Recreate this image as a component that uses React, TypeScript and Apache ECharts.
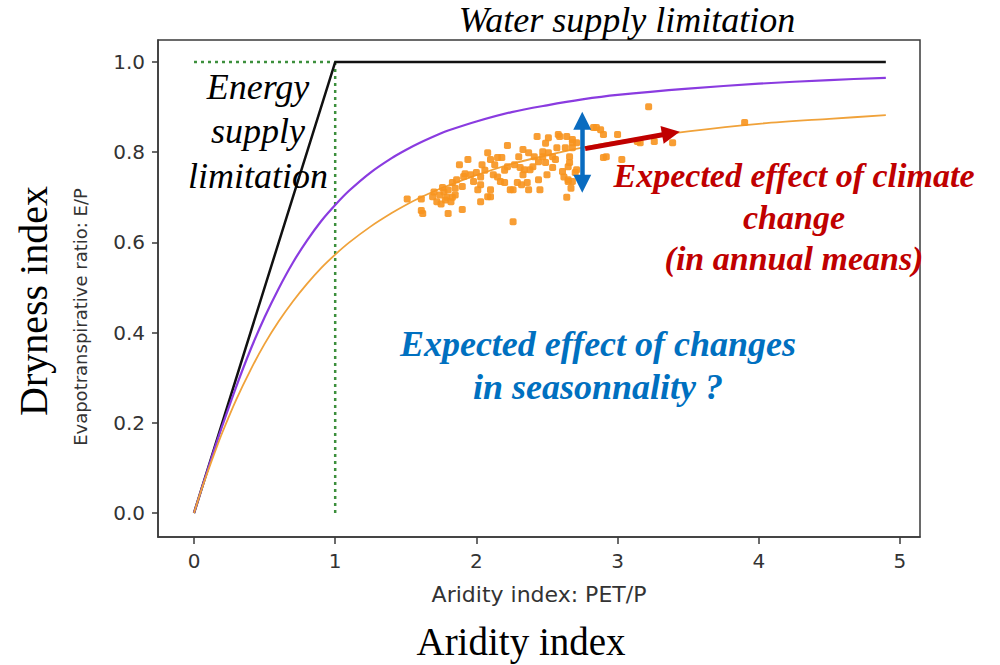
import React, { useEffect, useRef } from "react";
import * as echarts from "echarts";

// ---- data ----
const xTicks = [0, 1, 2, 3, 4, 5];
const yTicks = [0, 0.2, 0.4, 0.6, 0.8, 1.0];
const xAxisTitle = "Aridity index: PET/P";
const yAxisTitle = "Evapotranspirative ratio: E/P";

const limitLine = [[0, 0], [1, 1], [4.9, 1]];
const dottedH = [[0, 1], [1, 1]];
const dottedV = [[1, 1], [1, 0]];

const curveX = [0, 0.05, 0.1, 0.15, 0.2, 0.3, 0.4, 0.5, 0.6, 0.7, 0.8, 0.9, 1, 1.1, 1.25, 1.4, 1.5, 1.6, 1.75, 1.8, 2, 2.25, 2.5, 2.75, 3, 3.5, 4, 4.5, 4.9];
const purpleY = [0, 0.050, 0.099, 0.147, 0.193, 0.281, 0.362, 0.434, 0.498, 0.555, 0.604, 0.647, 0.683, 0.715, 0.755, 0.787, 0.805, 0.821, 0.842, 0.848, 0.868, 0.889, 0.904, 0.917, 0.927, 0.941, 0.952, 0.960, 0.965];
const orangeY = [0, 0.049, 0.094, 0.137, 0.178, 0.252, 0.317, 0.375, 0.425, 0.469, 0.508, 0.543, 0.573, 0.600, 0.635, 0.665, 0.683, 0.699, 0.720, 0.726, 0.749, 0.774, 0.793, 0.810, 0.824, 0.846, 0.863, 0.874, 0.882];

const scatterX = [
  1.51, 1.61, 1.61, 1.62, 1.69, 1.74, 1.77, 1.79, 1.80, 1.83, 1.78, 1.76, 1.80, 1.90, 1.83, 1.86, 1.88, 1.94, 1.90, 1.96,
  2.00, 2.03, 1.98, 2.03, 2.03, 2.10, 2.04, 2.08, 2.10, 2.13, 2.15, 1.91, 2.01, 2.22, 2.43, 2.51, 2.58, 2.64, 2.68, 2.71,
  2.33, 2.37, 2.41, 2.44, 2.47, 2.49, 2.51, 2.54, 2.56, 2.18, 2.22, 2.27, 2.31, 2.34, 2.38, 2.40, 2.17, 2.20, 2.26, 2.32,
  2.37, 2.44, 2.50, 2.54, 2.61, 2.66, 2.70, 2.65, 2.68, 2.45, 2.26, 2.90, 2.90, 2.33, 2.36, 2.29, 2.10, 2.08, 2.24, 2.47,
  2.59, 2.68, 2.68, 2.66, 2.65, 2.71, 2.83, 2.88, 3.00, 2.92, 2.65, 2.85, 3.16, 3.26, 3.39, 3.90, 3.22, 2.63, 2.62, 2.67,
  2.64, 1.72, 1.75, 1.82, 1.85, 1.70, 1.85, 1.92, 2.06, 2.12, 2.15, 2.30, 2.20, 2.57, 2.49, 3.03, 3.14,
];
const scatterY = [
  0.696, 0.696, 0.671, 0.664, 0.701, 0.705, 0.712, 0.700, 0.716, 0.700, 0.694, 0.722, 0.664, 0.673, 0.733, 0.739, 0.772, 0.784, 0.724, 0.750,
  0.755, 0.745, 0.735, 0.728, 0.690, 0.701, 0.772, 0.799, 0.784, 0.772, 0.788, 0.746, 0.717, 0.815, 0.835, 0.832, 0.839, 0.835, 0.821, 0.821,
  0.806, 0.799, 0.790, 0.779, 0.790, 0.777, 0.799, 0.790, 0.784, 0.788, 0.768, 0.772, 0.766, 0.761, 0.761, 0.768, 0.735, 0.733, 0.717, 0.728,
  0.717, 0.739, 0.750, 0.766, 0.757, 0.777, 0.755, 0.735, 0.735, 0.717, 0.646, 0.839, 0.788, 0.750, 0.733, 0.733, 0.717, 0.701, 0.717, 0.801,
  0.835, 0.828, 0.810, 0.790, 0.739, 0.761, 0.855, 0.850, 0.839, 0.790, 0.768, 0.855, 0.821, 0.824, 0.821, 0.866, 0.901, 0.810, 0.745, 0.720,
  0.700, 0.690, 0.685, 0.690, 0.705, 0.712, 0.720, 0.752, 0.760, 0.750, 0.745, 0.790, 0.760, 0.810, 0.820, 0.784, 0.824,
];

const blueArrow = [[2.75, 0.730], [2.75, 0.870]];
const redArrow = [[2.77, 0.808], [3.378, 0.842]];

const waterText = "Water supply limitation";
const energyText = "Energy\nsupply\nlimitation";
const climateText = "Expected effect of climate\nchange\n(in annual means)";
const seasonText = "Expected effect of changes\nin seasonnality ?";
const drynessText = "Dryness index";
const aridityText = "Aridity index";

const SERIF = '"Liberation Serif", "Times New Roman", serif';
const SANS = '"DejaVu Sans", sans-serif';

export default function App() {
  const ref = useRef<HTMLDivElement>(null);

  useEffect(() => {
    if (!ref.current) return;
    const chart = echarts.init(ref.current, null, { renderer: "svg" });
    const zip = (xs: number[], ys: number[]) => xs.map((x, i) => [x, ys[i]]);

    const option: any = {
      animation: false,
      backgroundColor: "#ffffff",
      grid: {
        left: 158,
        top: 40,
        width: 762,
        height: 497,
        show: true,
        borderColor: "#3a3a3a",
        borderWidth: 1.5,
        backgroundColor: "transparent",
        containLabel: false,
        outerBoundsMode: "none",
      },
      xAxis: {
        type: "value",
        min: -0.255,
        max: 5.142,
        name: xAxisTitle,
        nameLocation: "middle",
        nameGap: 46,
        nameTextStyle: { fontFamily: SANS, fontSize: 22, color: "#333" },
        axisLine: { show: true, onZero: false, lineStyle: { color: "#3a3a3a", width: 1.5 } },
        axisTick: { show: true, inside: false, length: 7, customValues: xTicks, lineStyle: { color: "#3a3a3a", width: 1.5 } },
        axisLabel: { customValues: xTicks, fontFamily: SANS, fontSize: 20, color: "#333", margin: 14 },
        splitLine: { show: false },
      },
      yAxis: {
        type: "value",
        min: -0.0532,
        max: 1.0488,
        axisLine: { show: true, onZero: false, lineStyle: { color: "#3a3a3a", width: 1.5 } },
        axisTick: { show: true, inside: false, length: 6, customValues: yTicks, lineStyle: { color: "#3a3a3a", width: 1.5 } },
        axisLabel: {
          customValues: yTicks,
          fontFamily: SANS,
          fontSize: 20,
          color: "#333",
          margin: 13,
          formatter: (v: number) => v.toFixed(1),
        },
        splitLine: { show: false },
      },
      series: [
        {
          type: "line",
          data: limitLine,
          symbol: "none",
          lineStyle: { color: "#111111", width: 2.5 },
          z: 3,
        },
        {
          type: "line",
          data: dottedH,
          symbol: "none",
          lineStyle: { color: "#3c8f3c", width: 2.5, type: [3, 4] },
          z: 2,
        },
        {
          type: "line",
          data: dottedV,
          symbol: "none",
          lineStyle: { color: "#3c8f3c", width: 2.5, type: [3, 4] },
          z: 2,
        },
        {
          type: "line",
          data: zip(curveX, purpleY),
          symbol: "none",
          smooth: 0.3,
          lineStyle: { color: "#8a3be0", width: 2.2 },
          z: 3,
        },
        {
          type: "line",
          data: zip(curveX, orangeY),
          symbol: "none",
          smooth: 0.3,
          lineStyle: { color: "#f0a23a", width: 1.8 },
          z: 3,
        },
        {
          type: "scatter",
          data: zip(scatterX, scatterY),
          symbol: "roundRect",
          symbolSize: 7,
          itemStyle: { color: "#f7931e", opacity: 0.9 },
          z: 4,
        },
        {
          type: "lines",
          coordinateSystem: "cartesian2d",
          data: [{ coords: blueArrow }],
          symbol: ["triangle", "triangle"],
          symbolSize: 18,
          lineStyle: { color: "#0a6cc0", width: 4.5, opacity: 1, curveness: 0 },
          z: 6,
        },
        {
          type: "lines",
          coordinateSystem: "cartesian2d",
          data: [{ coords: redArrow }],
          symbol: ["none", "triangle"],
          symbolSize: 18,
          lineStyle: { color: "#c00000", width: 5, opacity: 1, curveness: 0 },
          z: 6,
        },
      ],
      graphic: [
        {
          type: "text",
          x: 80,
          y: 317,
          rotation: Math.PI / 2,
          z: 10,
          style: {
            text: yAxisTitle,
            fontFamily: SANS,
            fontSize: 18,
            fill: "#333",
            align: "center",
            verticalAlign: "middle",
          },
        },
        {
          type: "text",
          x: 627,
          y: 20,
          z: 10,
          style: {
            text: waterText,
            fontFamily: SERIF,
            fontStyle: "italic",
            fontSize: 36,
            fill: "#000",
            align: "center",
            verticalAlign: "middle",
          },
        },
        {
          type: "text",
          x: 258,
          y: 131,
          z: 10,
          style: {
            text: energyText,
            fontFamily: SERIF,
            fontStyle: "italic",
            fontSize: 36,
            lineHeight: 44.5,
            fill: "#000",
            align: "center",
            verticalAlign: "middle",
          },
        },
        {
          type: "text",
          x: 794,
          y: 217,
          z: 10,
          style: {
            text: climateText,
            fontFamily: SERIF,
            fontStyle: "italic",
            fontWeight: "bold",
            fontSize: 34,
            lineHeight: 41.5,
            fill: "#c00000",
            align: "center",
            verticalAlign: "middle",
          },
        },
        {
          type: "text",
          x: 598,
          y: 365,
          z: 10,
          style: {
            text: seasonText,
            fontFamily: SERIF,
            fontStyle: "italic",
            fontWeight: "bold",
            fontSize: 36,
            lineHeight: 43,
            fill: "#0070c0",
            align: "center",
            verticalAlign: "middle",
          },
        },
        {
          type: "text",
          x: 33,
          y: 301,
          rotation: Math.PI / 2,
          z: 10,
          style: {
            text: drynessText,
            fontFamily: SERIF,
            fontSize: 40,
            fill: "#000",
            align: "center",
            verticalAlign: "middle",
          },
        },
        {
          type: "text",
          x: 521,
          y: 641,
          z: 10,
          style: {
            text: aridityText,
            fontFamily: SERIF,
            fontSize: 39,
            fill: "#000",
            align: "center",
            verticalAlign: "middle",
          },
        },
      ],
    };

    chart.setOption(option);
    return () => chart.dispose();
  }, []);

  return (
    <div
      ref={ref}
      style={{ position: "fixed", left: 0, top: 0, width: 1000, height: 665, background: "#fff" }}
    />
  );
}
